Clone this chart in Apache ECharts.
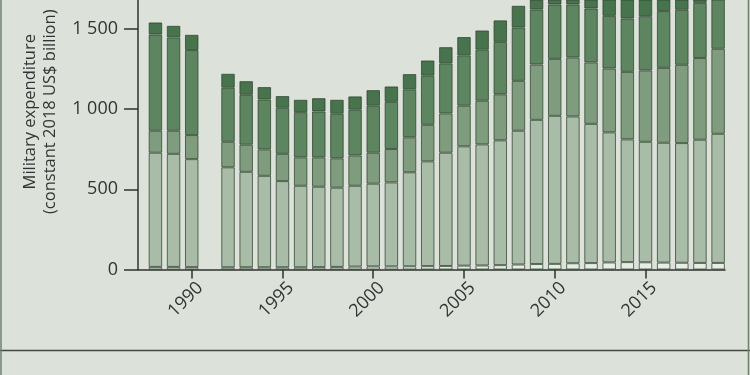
<!DOCTYPE html>
<html>
<head>
<meta charset="utf-8">
<style>
html,body{margin:0;padding:0;background:#dce2da;}
#chart{width:750px;height:375px;}
</style>
<script src="https://cdn.jsdelivr.net/npm/echarts@6/dist/echarts.min.js"></script>
</head>
<body>
<div id="chart"></div>
<script>
const years = [1988,1989,1990,1992,1993,1994,1995,1996,1997,1998,1999,2000,2001,2002,2003,2004,2005,2006,2007,2008,2009,2010,2011,2012,2013,2014,2015,2016,2017,2018,2019];
const africa = [16,16,15,14,14,14,14,14,15,16,18,19,19,20,21,22,24,25,27,31,34,35,39,40,44,46,45,43,42,41,41];
const americas = [712,705,673,623,595,570,537,508,501,494,504,516,524,586,653,706,744,755,778,834,899,923,915,868,811,765,751,747,746,768,805];
const asiaOceania = [137,144,150,159,169,165,170,177,183,183,189,193,208,218,228,245,253,272,287,311,345,355,368,383,398,421,445,467,488,509,530];
const europe = [600,582,530,337,311,311,287,282,286,278,285,293,294,299,306,312,314,318,327,333,343,339,330,336,328,333,338,354,343,344,356];
const middleEast = [75,72,95,87,85,77,73,77,83,87,83,97,96,95,95,101,114,120,134,135,140,140,145,165,180,200,185,170,175,165,185];
const xTicks = [1990,1995,2000,2005,2010,2015];
const yTicks = [0,500,1000,1500];
const yTitle = ['Military expenditure','(constant 2018 US$ billion)'];

const seriesDefs = [
  {name:'Africa', data:africa, color:'#e7ede5'},
  {name:'Americas', data:americas, color:'#a9bca7'},
  {name:'Asia and Oceania', data:asiaOceania, color:'#7f9d7e'},
  {name:'Europe', data:europe, color:'#5c8560'},
  {name:'Middle East', data:middleEast, color:'#47744c'}
];

const chart = echarts.init(document.getElementById('chart'), null, {renderer:'canvas'});
const dark = '#2e332e';
chart.setOption({
  backgroundColor:'#dce2da',
  animation:false,
  grid:{left:138, right:25, top:0, bottom:105.5, containLabel:false},
  xAxis:{
    type:'value', min:1987.04, max:2019.38,
    axisLine:{show:true, lineStyle:{color:dark, width:1.5}},
    axisTick:{show:true, length:9, lineStyle:{color:dark, width:1.5}, customValues:xTicks},
    axisLabel:{rotate:45, margin:7, verticalAlign:'top', lineHeight:24, fontSize:18, color:'#333', fontFamily:'Open Sans', customValues:xTicks, formatter:v=>String(v)},
    splitLine:{show:false}
  },
  yAxis:{
    type:'value', min:0, max:1680,
    name: yTitle.join('\n'), nameLocation:'middle', nameGap:78,
    nameTextStyle:{fontSize:16.5, color:'#333', fontFamily:'Open Sans', lineHeight:20, align:'center', padding:[0,0,0,46]},
    axisLine:{show:true, lineStyle:{color:dark, width:1.5}},
    axisTick:{show:true, length:14, lineStyle:{color:dark, width:1.5}, customValues:yTicks},
    axisLabel:{margin:20, fontSize:18, color:'#333', fontFamily:'Open Sans', customValues:yTicks,
      formatter:v=> String(v).replace(/\B(?=(\d{3})+(?!\d))/g,' ')},
    splitLine:{show:false}
  },
  series: seriesDefs.map(s=>({
    name:s.name, type:'bar', stack:'total', barWidth:13.5,
    encode:{x:1, y:0},
    itemStyle:{color:s.color, borderColor:'rgba(45,65,45,0.75)', borderWidth:1},
    data: years.map((y,i)=>[s.data[i], y])
  })),
  graphic:[
    {type:'line', shape:{x1:0,y1:350.5,x2:750,y2:350.5}, style:{stroke:'#3f4a3f', lineWidth:1.5}, silent:true},
    {type:'line', shape:{x1:1,y1:0,x2:1,y2:375}, style:{stroke:'#6f806f', lineWidth:1.5}, silent:true},
    {type:'line', shape:{x1:748.5,y1:0,x2:748.5,y2:375}, style:{stroke:'#6f806f', lineWidth:1.5}, silent:true}
  ]
});
</script>
</body>
</html>
